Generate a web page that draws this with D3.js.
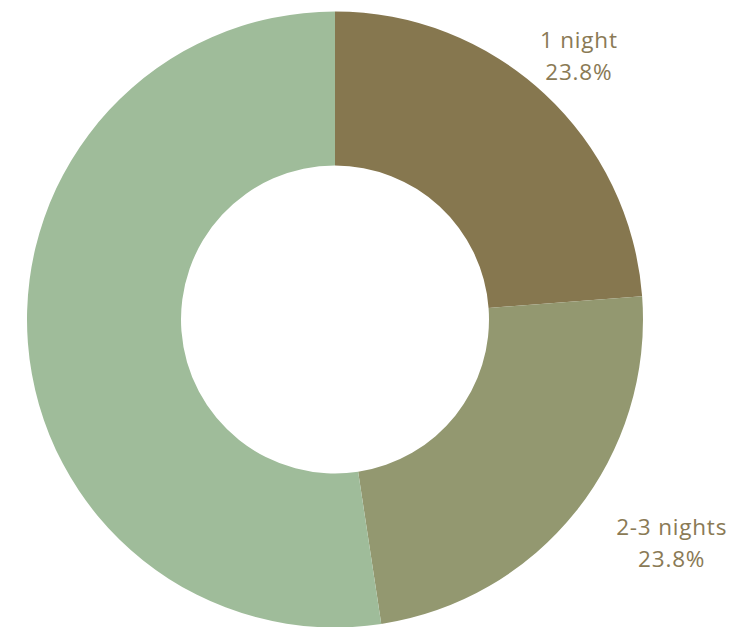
<!DOCTYPE html>
<html>
<head>
<meta charset="utf-8">
<script src="https://cdn.jsdelivr.net/npm/d3@7"></script>
<style>
  html, body { margin: 0; padding: 0; background: #fff; }
  svg { display: block; }
</style>
</head>
<body>
<svg id="chart" width="738" height="627"></svg>
<script>
// Length of stay shares (percent)
const categories = ["1 night", "2-3 nights", "4+ nights"];
const shares = [23.8, 23.8, 52.4];
const showLabel = [true, true, false];
const colors = ["#86774F", "#939870", "#9FBC9A"];

const data = categories.map((c, i) => ({ name: c, value: shares[i], label: showLabel[i] }));

const svg = d3.select("#chart");
const cx = 335, cy = 319.5;
const outerR = 308, innerR = 154;

const pie = d3.pie().value(d => d.value).sort(null);
const arc = d3.arc().innerRadius(innerR).outerRadius(outerR);
const arcs = pie(data);

const g = svg.append("g").attr("transform", `translate(${cx},${cy})`);

g.selectAll("path.slice")
  .data(arcs)
  .join("path")
  .attr("class", "slice")
  .attr("d", arc)
  .attr("fill", (d, i) => colors[i]);

// Outside labels: placed along the slice mid-angle, then nudged clear of the ring
const labelR = 360;
const nudge = [{ dx: -1, dy: 0 }, { dx: 55, dy: -1 }];
const fmt = d3.format(".1f");

const labels = g.selectAll("g.label")
  .data(arcs.filter(d => d.data.label))
  .join("g")
  .attr("class", "label")
  .attr("transform", (d, i) => {
    const a = (d.startAngle + d.endAngle) / 2;
    const x = Math.sin(a) * labelR + nudge[i].dx;
    const y = -Math.cos(a) * labelR + nudge[i].dy;
    return `translate(${x},${y})`;
  });

labels.append("text")
  .attr("text-anchor", "middle")
  .attr("font-family", "'Open Sans', sans-serif")
  .attr("font-size", 22.5)
  .attr("letter-spacing", 0.8)
  .attr("fill", "#8A7A55")
  .each(function (d) {
    const t = d3.select(this);
    t.append("tspan").attr("x", 0).attr("y", -8).text(d.data.name);
    t.append("tspan").attr("x", 0).attr("y", 24).text(fmt(d.data.value) + "%");
  });
</script>
</body>
</html>
